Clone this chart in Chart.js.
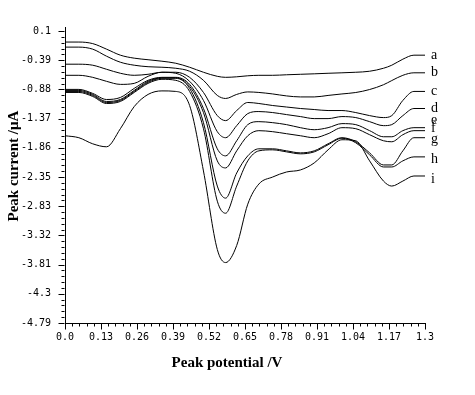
<!DOCTYPE html>
<html>
<head>
<meta charset="utf-8">
<script src="https://cdn.jsdelivr.net/npm/chart.js@4.4.1/dist/chart.umd.min.js"></script>
<style>
  html, body { margin: 0; padding: 0; background: #fff; }
</style>
</head>
<body>
<canvas id="chart" width="475" height="395"></canvas>
<script>
// peak potential (V) shared by all curves
const potentials = [0, 0.05, 0.10, 0.15, 0.20, 0.25, 0.30, 0.35, 0.40, 0.45, 0.50, 0.55, 0.58, 0.62, 0.66,
    0.70, 0.75, 0.80, 0.85, 0.90, 0.95, 1.00, 1.05, 1.10, 1.15, 1.18, 1.22, 1.26, 1.30];

// peak current (uA), one array per curve
const curveA = [-0.085, -0.085, -0.111, -0.204, -0.305, -0.355, -0.381, -0.406, -0.440, -0.507,
    -0.591, -0.659, -0.676, -0.667, -0.650, -0.642, -0.642, -0.633, -0.625, -0.617,
    -0.608, -0.600, -0.591, -0.574, -0.524, -0.473, -0.372, -0.305, -0.305];
const curveB = [-0.170, -0.170, -0.204, -0.322, -0.423, -0.473, -0.498, -0.507, -0.524, -0.574,
    -0.726, -0.979, -1.030, -0.962, -0.920, -0.929, -0.954, -0.987, -1.004, -1.004,
    -0.979, -0.954, -0.930, -0.880, -0.800, -0.730, -0.642, -0.600, -0.600];
const curveC = [-0.456, -0.456, -0.473, -0.541, -0.608, -0.642, -0.625, -0.591, -0.591, -0.676,
    -0.929, -1.317, -1.401, -1.232, -1.097, -1.114, -1.148, -1.173, -1.198, -1.215,
    -1.232, -1.232, -1.266, -1.317, -1.350, -1.317, -1.063, -0.912, -0.912];
const curveD = [-0.642, -0.642, -0.676, -0.743, -0.794, -0.777, -0.659, -0.591, -0.608, -0.743,
    -1.063, -1.586, -1.687, -1.485, -1.283, -1.249, -1.266, -1.300, -1.333, -1.367,
    -1.367, -1.333, -1.350, -1.418, -1.485, -1.468, -1.317, -1.198, -1.198];
const curveE = [-0.878, -0.878, -0.945, -1.047, -1.013, -0.861, -0.726, -0.676, -0.676, -0.794,
    -1.198, -1.873, -1.991, -1.738, -1.468, -1.418, -1.435, -1.468, -1.519, -1.553,
    -1.519, -1.451, -1.468, -1.569, -1.671, -1.671, -1.569, -1.519, -1.519];
const curveF = [-0.895, -0.895, -0.962, -1.080, -1.047, -0.895, -0.743, -0.684, -0.684, -0.827,
    -1.266, -2.075, -2.193, -1.907, -1.654, -1.569, -1.586, -1.620, -1.654, -1.687,
    -1.620, -1.519, -1.536, -1.637, -1.738, -1.755, -1.637, -1.569, -1.569];
const curveG = [-0.912, -0.912, -0.979, -1.097, -1.063, -0.912, -0.760, -0.692, -0.692, -0.861,
    -1.435, -2.497, -2.699, -2.278, -1.991, -1.873, -1.873, -1.907, -1.941, -1.907,
    -1.789, -1.687, -1.755, -1.941, -2.143, -2.143, -1.907, -1.687, -1.687];
const curveH = [-0.929, -0.929, -0.996, -1.114, -1.080, -0.929, -0.777, -0.709, -0.726, -0.912,
    -1.536, -2.750, -2.952, -2.497, -2.075, -1.907, -1.890, -1.924, -1.957, -1.924,
    -1.805, -1.696, -1.772, -1.974, -2.177, -2.177, -2.075, -2.008, -2.008];
const curveI = [-1.654, -1.687, -1.789, -1.839, -1.536, -1.165, -0.962, -0.903, -0.912, -1.148,
    -2.244, -3.559, -3.778, -3.492, -2.800, -2.463, -2.345, -2.261, -2.227, -2.109,
    -1.890, -1.721, -1.738, -2.075, -2.413, -2.497, -2.413, -2.328, -2.328];

const curveNames = ['a', 'b', 'c', 'd', 'e', 'f', 'g', 'h', 'i'];

const xTickValues = [0, 0.13, 0.26, 0.39, 0.52, 0.65, 0.78, 0.91, 1.04, 1.17, 1.3];
const xTickLabels = ['0.0', '0.13', '0.26', '0.39', '0.52', '0.65', '0.78', '0.91', '1.04', '1.17', '1.3'];
const yTickValues = [0.1, -0.389, -0.878, -1.367, -1.856, -2.345, -2.834, -3.323, -3.812, -4.301, -4.79];
const yTickLabels = ['0.1', '-0.39', '-0.88', '-1.37', '-1.86', '-2.35', '-2.83', '-3.32', '-3.81', '-4.3', '-4.79'];

const xTitle = 'Peak potential /V';
const yTitle = 'Peak current /μA';

// vertical nudge of the curve letters so e/f/g don't collide
const letterNudge = [0, 0, 0, 0, -7, -2, 2, 2, 3];

const allCurves = [curveA, curveB, curveC, curveD, curveE, curveF, curveG, curveH, curveI];

// minor ticks, axis titles and curve letters
const axisDecor = {
    id: 'axisDecor',
    afterDraw(chart) {
        const ctx = chart.ctx;
        const xs = chart.scales.x;
        const ys = chart.scales.y;
        ctx.save();
        ctx.strokeStyle = '#000';
        ctx.lineWidth = 1;
        ctx.beginPath();

        const xAxisY = Math.round(xs.top) + 0.5;
        for (let i = 0; i < xTickValues.length; i++) {
            const px = Math.round(xs.getPixelForValue(xTickValues[i])) + 0.5;
            ctx.moveTo(px, xAxisY);
            ctx.lineTo(px, xAxisY + 6);
            if (i < xTickValues.length - 1) {
                const step = (xTickValues[i + 1] - xTickValues[i]) / 5;
                for (let k = 1; k < 5; k++) {
                    const mp = Math.round(xs.getPixelForValue(xTickValues[i] + step * k)) + 0.5;
                    ctx.moveTo(mp, xAxisY);
                    ctx.lineTo(mp, xAxisY + 3);
                }
            }
        }

        const yAxisX = Math.round(ys.right) - 0.5;
        for (let i = 0; i < yTickValues.length; i++) {
            const py = Math.round(ys.getPixelForValue(yTickValues[i])) + 0.5;
            ctx.moveTo(yAxisX, py);
            ctx.lineTo(yAxisX - 6, py);
            if (i < yTickValues.length - 1) {
                const step = (yTickValues[i + 1] - yTickValues[i]) / 5;
                for (let k = 1; k < 5; k++) {
                    const mp = Math.round(ys.getPixelForValue(yTickValues[i] + step * k)) + 0.5;
                    ctx.moveTo(yAxisX, mp);
                    ctx.lineTo(yAxisX - 3, mp);
                }
            }
        }
        ctx.stroke();

        ctx.fillStyle = '#000';
        ctx.textBaseline = 'middle';

        // axis titles
        ctx.font = 'bold 15px "Liberation Serif"';
        ctx.textAlign = 'center';
        ctx.fillText(xTitle, xs.left + (xs.right - xs.left) * 0.45, xs.bottom - 32);
        ctx.save();
        ctx.translate(14, ys.top + (ys.bottom - ys.top) * 0.47);
        ctx.rotate(-Math.PI / 2);
        ctx.fillText(yTitle, 0, 0);
        ctx.restore();

        // curve letters
        ctx.font = '14px "Liberation Serif"';
        ctx.textAlign = 'left';
        chart.data.datasets.forEach((ds, i) => {
            const meta = chart.getDatasetMeta(i);
            const last = meta.data[meta.data.length - 1];
            ctx.fillText(curveNames[i], last.x + 6, last.y + letterNudge[i]);
        });
        ctx.restore();
    }
};

const tickFont = { family: '"DejaVu Sans Mono"', size: 10 };

new Chart(document.getElementById('chart'), {
    type: 'line',
    data: {
        datasets: allCurves.map((values, i) => ({
            label: curveNames[i],
            data: potentials.map((p, j) => ({ x: p, y: values[j] })),
            borderColor: '#000',
            borderWidth: 1,
            pointRadius: 0,
            fill: false,
            cubicInterpolationMode: 'monotone'
        }))
    },
    options: {
        responsive: false,
        animation: false,
        layout: { padding: { left: 0, right: 50, top: 27, bottom: 0 } },
        plugins: {
            legend: { display: false },
            tooltip: { enabled: false }
        },
        scales: {
            x: {
                type: 'linear',
                min: 0,
                max: 1.3,
                afterFit: (scale) => { scale.height = 72; },
                afterBuildTicks: (scale) => { scale.ticks = xTickValues.map(v => ({ value: v })); },
                grid: { display: false, drawTicks: false },
                border: { display: true, color: '#000', width: 1 },
                ticks: {
                    color: '#000',
                    font: tickFont,
                    padding: 8,
                    maxRotation: 0,
                    autoSkip: false,
                    callback: (val, idx) => xTickLabels[idx]
                }
            },
            y: {
                type: 'linear',
                min: -4.79,
                max: 0.167,
                afterFit: (scale) => { scale.width = 65; },
                afterBuildTicks: (scale) => { scale.ticks = yTickValues.map(v => ({ value: v })); },
                grid: { display: false, drawTicks: false },
                border: { display: true, color: '#000', width: 1 },
                ticks: {
                    color: '#000',
                    font: tickFont,
                    padding: 14,
                    autoSkip: false,
                    callback: (val, idx) => yTickLabels[idx]
                }
            }
        }
    },
    plugins: [axisDecor]
});
</script>
</body>
</html>
